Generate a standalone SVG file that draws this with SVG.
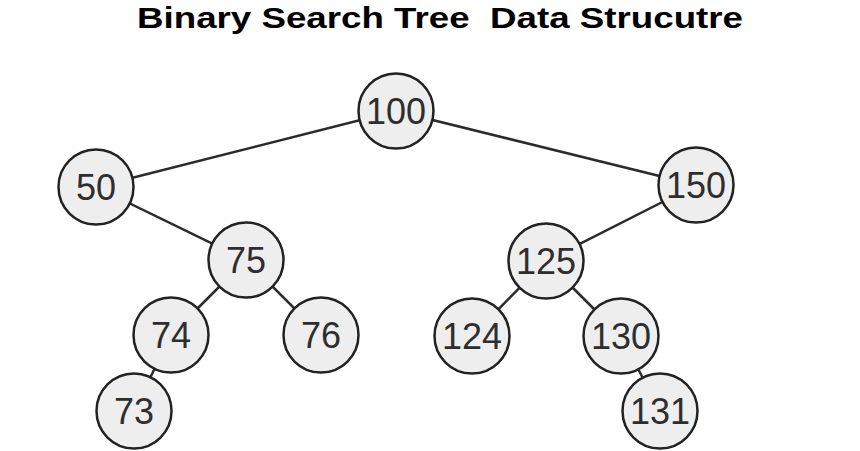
<svg xmlns="http://www.w3.org/2000/svg" width="860" height="451" viewBox="0 0 860 451">
<style>
.edge{stroke:#2b2b2b;stroke-width:2.5;fill:none}
.node circle{fill:#eeeeee;stroke:#222222;stroke-width:2.5}
.node text{font-family:"Liberation Sans",Arial,sans-serif;font-size:36px;fill:#2e2e2e;text-anchor:middle}
.title{font-family:"Liberation Sans",Arial,sans-serif;font-weight:bold;font-size:30px;fill:#000000}
</style>
<rect width="860" height="451" fill="#ffffff"/>
<text class="title" x="137" y="27.5" textLength="606" lengthAdjust="spacingAndGlyphs" xml:space="preserve">Binary Search Tree  Data Strucutre</text>
<g id="connectors">
<line class="edge" x1="396" y1="111" x2="96" y2="187"/>
<line class="edge" x1="396" y1="111" x2="696" y2="185"/>
<line class="edge" x1="96" y1="187" x2="246" y2="260"/>
<line class="edge" x1="246" y1="260" x2="171" y2="335"/>
<line class="edge" x1="246" y1="260" x2="321" y2="335"/>
<line class="edge" x1="171" y1="335" x2="134" y2="411"/>
<line class="edge" x1="696" y1="185" x2="546" y2="261"/>
<line class="edge" x1="546" y1="261" x2="472" y2="336"/>
<line class="edge" x1="546" y1="261" x2="621" y2="336"/>
<line class="edge" x1="621" y1="336" x2="660" y2="411"/>
</g>
<g id="n100" class="node"><circle cx="396" cy="111" r="37.5"/><text x="396" y="124">100</text></g>
<g id="n50" class="node"><circle cx="96" cy="187" r="37.5"/><text x="96" y="200">50</text></g>
<g id="n150" class="node"><circle cx="696" cy="185" r="37.5"/><text x="696" y="198">150</text></g>
<g id="n75" class="node"><circle cx="246" cy="260" r="37.5"/><text x="246" y="273">75</text></g>
<g id="n125" class="node"><circle cx="546" cy="261" r="37.5"/><text x="546" y="274">125</text></g>
<g id="n74" class="node"><circle cx="171" cy="335" r="37.5"/><text x="171" y="348">74</text></g>
<g id="n76" class="node"><circle cx="321" cy="335" r="37.5"/><text x="321" y="348">76</text></g>
<g id="n124" class="node"><circle cx="472" cy="336" r="37.5"/><text x="472" y="349">124</text></g>
<g id="n130" class="node"><circle cx="621" cy="336" r="37.5"/><text x="621" y="349">130</text></g>
<g id="n73" class="node"><circle cx="134" cy="411" r="37.5"/><text x="134" y="424">73</text></g>
<g id="n131" class="node"><circle cx="660" cy="411" r="37.5"/><text x="660" y="424">131</text></g>
</svg>
